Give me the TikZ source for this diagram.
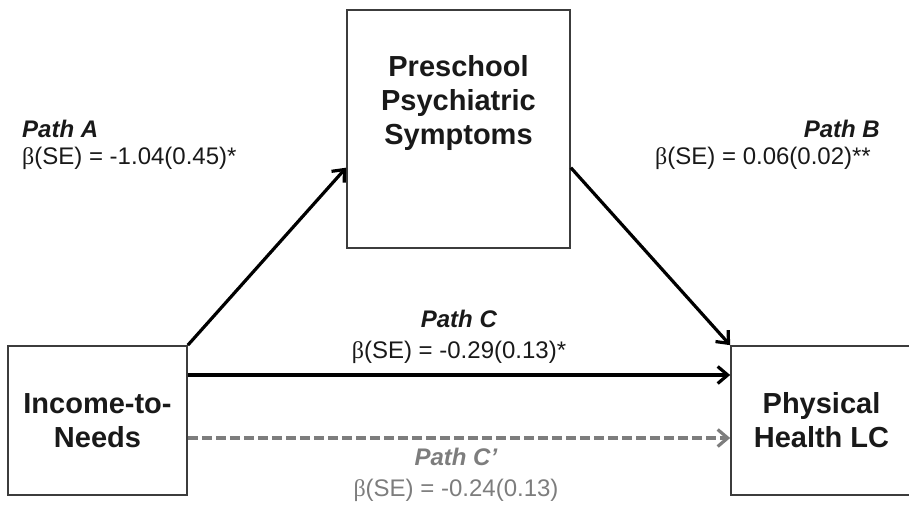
\documentclass[tikz,border=0pt]{standalone}
\usepackage{fontspec}
\setmainfont{Liberation Sans}
\newfontfamily\betafont{Liberation Serif}
\usetikzlibrary{arrows.meta}
\definecolor{dgray}{RGB}{60,60,60}
\definecolor{mgray}{RGB}{125,125,125}
\newcommand{\bse}{{\betafont β}(SE)}
\begin{document}
\begin{tikzpicture}[
x=1pt,y=1pt
]

\tikzstyle{bx} = [draw=dgray, line width=1.7pt, shape=rectangle, inner sep=0pt]
\tikzstyle{bxt} = [font=\fontsize{29}{34}\selectfont\bfseries, align=center, text=black!90]
\tikzstyle{lb} = [font=\fontsize{24}{28}\selectfont, inner sep=0pt, text=black!90]
\tikzstyle{ar} = [line width=3.2pt, -{Straight Barb[length=10pt,width=17pt]}]

\useasboundingbox (0,0) rectangle (909,504);
\clip (0,0) rectangle (909,504);

% boxes
\node[bx, minimum width=223pt, minimum height=238pt] (psy) at (458.5,375) {};
\node[bxt] (psyt) at (458.5,401) {Preschool\\Psychiatric\\Symptoms};
\node[bx, bxt, minimum width=179pt, minimum height=149pt] (inc) at (97.5,83.5) {Income-to-\\Needs};
\node[bx, bxt, minimum width=181pt, minimum height=149pt] (phy) at (821.5,83.5) {Physical\\Health LC};

% path labels
\node[lb, anchor=base west] (pathA) at (22,366) {\textbf{\textit{Path A}}};
\node[lb, anchor=base west] (betaA) at (22,339) {\bse{} = -1.04(0.45)*};
\node[lb, anchor=base east] (pathB) at (880,366) {\textbf{\textit{Path B}}};
\node[lb, anchor=base west] (betaB) at (655,339) {\bse{} = 0.06(0.02)**};
\node[lb, anchor=base] (pathC) at (459,176.5) {\textbf{\textit{Path C}}};
\node[lb, anchor=base] (betaC) at (459,146) {\bse{} = -0.29(0.13)*};
\node[lb, anchor=base, text=mgray] (pathCp) at (456,39) {\textbf{\textit{Path C’}}};
\node[lb, anchor=base, text=mgray] (betaCp) at (456,8) {\bse{} = -0.24(0.13)};

% arrows
\draw[ar] (inc.north east) -- (psy.199);
\draw[ar] (psy.341) -- (phy.north west);
\draw[ar] ([yshift=45.5pt]inc.east) -- ([yshift=45.5pt]phy.west);
\draw[ar, mgray, dash pattern=on 10pt off 4pt] ([yshift=-17.5pt]inc.east) -- ([yshift=-17.5pt]phy.west);
\end{tikzpicture}
\end{document}
